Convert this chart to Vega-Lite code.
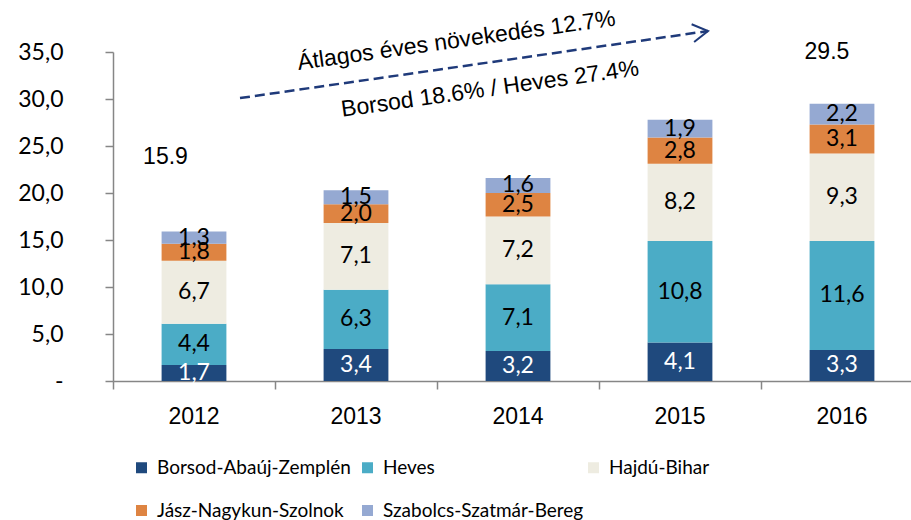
{
  "$schema": "https://vega.github.io/schema/vega-lite/v6.json",
  "width": 810,
  "height": 329,
  "autosize": {"type": "none"},
  "padding": {"left": 113, "top": 52, "right": 0, "bottom": 139},
  "background": "white",
  "config": {
    "view": {"stroke": null},
    "locale": {"number": {"decimal": ",", "thousands": " ", "grouping": [3], "currency": ["", ""]}}
  },
  "datasets": {
    "main": [
      {"year": "2012", "region": "Borsod-Abaúj-Zemplén", "o": 1, "value": 1.7},
      {"year": "2012", "region": "Heves", "o": 2, "value": 4.4},
      {"year": "2012", "region": "Hajdú-Bihar", "o": 3, "value": 6.7},
      {"year": "2012", "region": "Jász-Nagykun-Szolnok", "o": 4, "value": 1.8},
      {"year": "2012", "region": "Szabolcs-Szatmár-Bereg", "o": 5, "value": 1.3},
      {"year": "2013", "region": "Borsod-Abaúj-Zemplén", "o": 1, "value": 3.4},
      {"year": "2013", "region": "Heves", "o": 2, "value": 6.3},
      {"year": "2013", "region": "Hajdú-Bihar", "o": 3, "value": 7.1},
      {"year": "2013", "region": "Jász-Nagykun-Szolnok", "o": 4, "value": 2.0},
      {"year": "2013", "region": "Szabolcs-Szatmár-Bereg", "o": 5, "value": 1.5},
      {"year": "2014", "region": "Borsod-Abaúj-Zemplén", "o": 1, "value": 3.2},
      {"year": "2014", "region": "Heves", "o": 2, "value": 7.1},
      {"year": "2014", "region": "Hajdú-Bihar", "o": 3, "value": 7.2},
      {"year": "2014", "region": "Jász-Nagykun-Szolnok", "o": 4, "value": 2.5},
      {"year": "2014", "region": "Szabolcs-Szatmár-Bereg", "o": 5, "value": 1.6},
      {"year": "2015", "region": "Borsod-Abaúj-Zemplén", "o": 1, "value": 4.1},
      {"year": "2015", "region": "Heves", "o": 2, "value": 10.8},
      {"year": "2015", "region": "Hajdú-Bihar", "o": 3, "value": 8.2},
      {"year": "2015", "region": "Jász-Nagykun-Szolnok", "o": 4, "value": 2.8},
      {"year": "2015", "region": "Szabolcs-Szatmár-Bereg", "o": 5, "value": 1.9},
      {"year": "2016", "region": "Borsod-Abaúj-Zemplén", "o": 1, "value": 3.3},
      {"year": "2016", "region": "Heves", "o": 2, "value": 11.6},
      {"year": "2016", "region": "Hajdú-Bihar", "o": 3, "value": 9.3},
      {"year": "2016", "region": "Jász-Nagykun-Szolnok", "o": 4, "value": 3.1},
      {"year": "2016", "region": "Szabolcs-Szatmár-Bereg", "o": 5, "value": 2.2}
    ],
    "notes": [
      {"kind": "rot", "px": 2.12, "py": 36.2, "text": "Átlagos éves növekedés 12.7%"},
      {"kind": "rot", "px": 2.327, "py": 31.06, "text": "Borsod 18.6% / Heves 27.4%"},
      {"kind": "tot", "px": 0.324, "py": 23.83, "text": "15.9"},
      {"kind": "tot", "px": 4.407, "py": 35.0, "text": "29.5"},
      {"kind": "arrow", "px": 0.784, "py": 30.1, "px2": 3.673, "py2": 37.23}
    ]
  },
  "resolve": {"scale": {"x": "independent", "y": "independent"}},
  "layer": [
    {
      "data": {"name": "main"},
      "encoding": {
        "x": {
          "field": "year",
          "type": "nominal",
          "scale": {"paddingInner": 0, "paddingOuter": 0},
          "axis": {
            "title": null,
            "labelAngle": 0,
            "bandPosition": 0,
            "domainColor": "#868686",
            "domainWidth": 1.5,
            "tickColor": "#868686",
            "tickWidth": 1.5,
            "tickSize": 8,
            "labelFont": "Liberation Sans",
            "labelFontSize": 23,
            "labelColor": "black",
            "labelPadding": 16
          }
        }
      },
      "layer": [
        {
          "mark": {"type": "bar", "width": {"band": 0.4}},
          "encoding": {
            "y": {
              "field": "value",
              "type": "quantitative",
              "stack": "zero",
              "scale": {"domain": [0, 35], "nice": false},
              "axis": {
                "title": null,
                "values": [0, 5, 10, 15, 20, 25, 30, 35],
                "format": ".1f",
                "labelExpr": "datum.value === 0 ? '-' : datum.label",
                "grid": false,
                "domainColor": "#868686",
                "domainWidth": 1.5,
                "tickColor": "#868686",
                "tickWidth": 1.5,
                "tickSize": 8,
                "labelFont": "Lato",
                "labelFontSize": 23,
                "labelColor": "black",
                "labelPadding": 42
              }
            },
            "order": {"field": "o", "type": "quantitative"},
            "color": {
              "field": "region",
              "type": "nominal",
              "scale": {
                "domain": ["Borsod-Abaúj-Zemplén", "Heves", "Hajdú-Bihar", "Jász-Nagykun-Szolnok", "Szabolcs-Szatmár-Bereg"],
                "range": ["#1F497D", "#4BACC6", "#EEECE1", "#DE8442", "#95A9D2"]
              },
              "legend": {
                "orient": "none",
                "legendX": 19,
                "legendY": 406,
                "direction": "horizontal",
                "columns": 3,
                "gridAlign": "all",
                "title": null,
                "padding": 0,
                "symbolType": "square",
                "symbolSize": 121,
                "symbolStrokeWidth": 0,
                "symbolOffset": 0,
                "labelFont": "Lato",
                "labelFontSize": 19,
                "labelColor": "black",
                "labelOffset": 6,
                "labelLimit": 400,
                "columnPadding": 0,
                "rowPadding": 23
              }
            }
          }
        },
        {
          "transform": [
            {"stack": "value", "groupby": ["year"], "sort": [{"field": "o", "order": "ascending"}], "as": ["v0", "v1"]},
            {"calculate": "(datum.v0 + datum.v1) / 2", "as": "mid"}
          ],
          "mark": {"type": "text", "font": "Lato", "fontSize": 23, "baseline": "middle", "align": "center"},
          "encoding": {
            "y": {"field": "mid", "type": "quantitative", "title": null},
            "text": {"field": "value", "type": "quantitative", "format": ".1f"},
            "color": {
              "condition": {"test": "datum.region === 'Borsod-Abaúj-Zemplén'", "value": "white"},
              "value": "black"
            }
          }
        }
      ]
    },
    {
      "data": {"name": "notes"},
      "encoding": {
        "x": {"field": "px", "type": "quantitative", "scale": {"domain": [0, 5], "nice": false, "zero": false}, "axis": null},
        "y": {"field": "py", "type": "quantitative", "scale": {"domain": [0, 35], "nice": false}, "axis": null}
      },
      "layer": [
        {
          "transform": [{"filter": "datum.kind === 'arrow'"}],
          "mark": {"type": "rule", "color": "#1F3A7A", "strokeWidth": 2.5, "strokeDash": [10, 5]},
          "encoding": {
            "x2": {"field": "px2"},
            "y2": {"field": "py2"}
          }
        },
        {
          "transform": [{"filter": "datum.kind === 'arrow'"}],
          "mark": {"type": "point", "shape": "M-1.7,-1L0,0L-1.7,1", "filled": false, "size": 324, "strokeWidth": 2, "color": "#1F3A7A", "angle": -8, "opacity": 1},
          "encoding": {
            "x": {"field": "px2", "type": "quantitative"},
            "y": {"field": "py2", "type": "quantitative"}
          }
        },
        {
          "transform": [{"filter": "datum.kind === 'rot'"}],
          "mark": {"type": "text", "font": "Liberation Sans", "fontSize": 23, "angle": -8, "align": "center", "baseline": "middle", "color": "black"},
          "encoding": {"text": {"field": "text", "type": "nominal"}}
        },
        {
          "transform": [{"filter": "datum.kind === 'tot'"}],
          "mark": {"type": "text", "font": "Liberation Sans", "fontSize": 23, "align": "center", "baseline": "middle", "color": "black"},
          "encoding": {"text": {"field": "text", "type": "nominal"}}
        }
      ]
    }
  ]
}
